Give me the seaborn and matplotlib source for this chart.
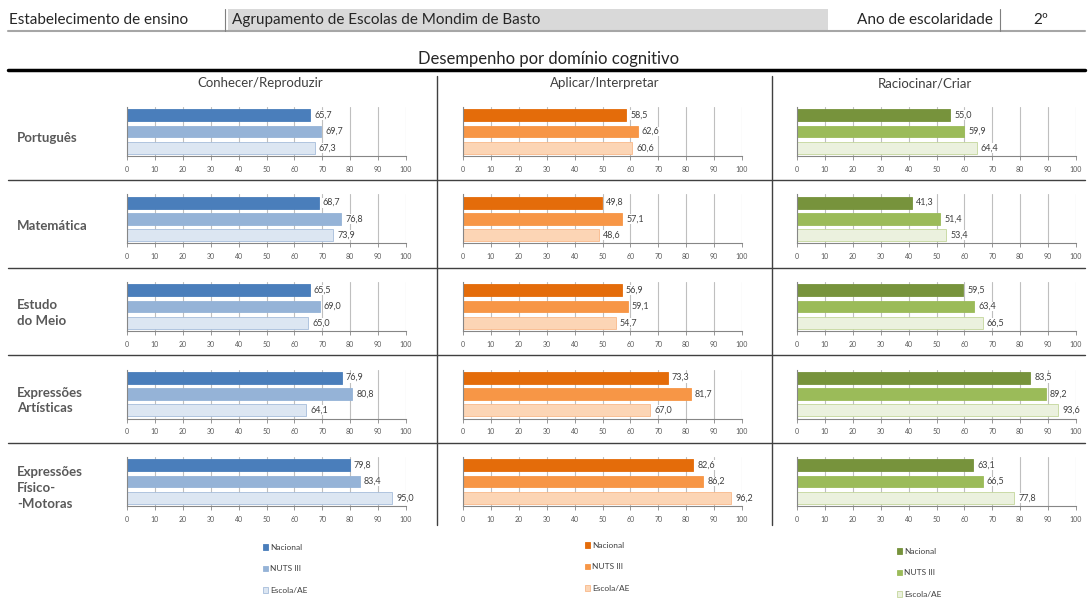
import numpy as np
import pandas as pd
import matplotlib.pyplot as plt
import seaborn as sns
from matplotlib.patches import Patch, Rectangle

W, H = 1091, 599

disciplinas = ["Português", "Matemática", "Estudo\ndo Meio",
               "Expressões\nArtísticas", "Expressões\nFísico-\n-Motoras"]
dominios = ["Conhecer/Reproduzir", "Aplicar/Interpretar", "Raciocinar/Criar"]
series = ["Nacional", "NUTS III", "Escola/AE"]

conhecer_nacional = [65.7, 68.7, 65.5, 76.9, 79.8]
conhecer_nuts = [69.7, 76.8, 69.0, 80.8, 83.4]
conhecer_escola = [67.3, 73.9, 65.0, 64.1, 95.0]

aplicar_nacional = [58.5, 49.8, 56.9, 73.3, 82.6]
aplicar_nuts = [62.6, 57.1, 59.1, 81.7, 86.2]
aplicar_escola = [60.6, 48.6, 54.7, 67.0, 96.2]

raciocinar_nacional = [55.0, 41.3, 59.5, 83.5, 63.1]
raciocinar_nuts = [59.9, 51.4, 63.4, 89.2, 66.5]
raciocinar_escola = [64.4, 53.4, 66.5, 93.6, 77.8]

valores = {
    "Conhecer/Reproduzir": [conhecer_nacional, conhecer_nuts, conhecer_escola],
    "Aplicar/Interpretar": [aplicar_nacional, aplicar_nuts, aplicar_escola],
    "Raciocinar/Criar": [raciocinar_nacional, raciocinar_nuts, raciocinar_escola],
}

paletas = {
    "Conhecer/Reproduzir": ["#4a7ebb", "#95b3d7", "#dce6f2"],
    "Aplicar/Interpretar": ["#e46c0a", "#f79646", "#fcd5b5"],
    "Raciocinar/Criar": ["#77933c", "#9bbb59", "#ebf1de"],
}
bordas = {
    "Conhecer/Reproduzir": ["#4a7ebb", "#95b3d7", "#a6bddb"],
    "Aplicar/Interpretar": ["#e46c0a", "#f79646", "#f9b98a"],
    "Raciocinar/Criar": ["#77933c", "#9bbb59", "#c3d69b"],
}

rows = []
for dom in dominios:
    for s, vals in zip(series, valores[dom]):
        for disc, v in zip(disciplinas, vals):
            rows.append({"dominio": dom, "disciplina": disc, "serie": s, "valor": v})
df = pd.DataFrame(rows)

sns.set_theme(style="white")
plt.rcParams["font.family"] = ["Lato", "DejaVu Sans"]

fig = plt.figure(figsize=(W / 100, H / 100), dpi=100)


def rect(x0, y0, x1, y1):
    return [x0 / W, 1 - y1 / H, (x1 - x0) / W, (y1 - y0) / H]


# background layer for header, separators and labels (pixel coords)
bg = fig.add_axes([0, 0, 1, 1])
bg.set_xlim(0, W)
bg.set_ylim(H, 0)
bg.axis("off")

# header
bg.add_patch(Rectangle((228, 9), 600, 22, facecolor="#d9d9d9", edgecolor="none"))
bg.plot([8, 1085], [31, 31], color="#a6a6a6", lw=1.5)
bg.plot([225, 225], [9, 31], color="#7f7f7f", lw=0.8)
bg.plot([1000, 1000], [9, 31], color="#7f7f7f", lw=0.8)
hdr = dict(fontsize=11, va="center", color="#262626")
bg.text(9, 20, "Estabelecimento de ensino", **hdr)
bg.text(232, 20, "Agrupamento de Escolas de Mondim de Basto", **hdr)
bg.text(857, 20, "Ano de escolaridade", **hdr)
bg.text(1041, 20, "2º", ha="center", **hdr)

bg.text(549, 59, "Desempenho por domínio cognitivo", fontsize=12, ha="center", va="center", color="#262626")
bg.plot([8, 1085], [70, 70], color="black", lw=2.5)

col_centro = [260, 605, 925]
for dom, cx in zip(dominios, col_centro):
    bg.text(cx, 83, dom, fontsize=9.5, ha="center", va="center", color="#404040")

for y in [180, 267.5, 355, 442.5]:
    bg.plot([8, 1085], [y, y], color="#404040", lw=1)
for x in [437, 772]:
    bg.plot([x, x], [76, 525], color="#404040", lw=1)

for i, disc in enumerate(disciplinas):
    bg.text(17, 138 + 87.5 * i, disc, fontsize=9.5, va="center", color="#595959",
            fontweight="bold", linespacing=1.35)

col_x0 = [127, 463, 797]
for j, dom in enumerate(dominios):
    for i, disc in enumerate(disciplinas):
        ax = fig.add_axes(rect(col_x0[j], 107 + 87.5 * i, col_x0[j] + 279, 156 + 87.5 * i))
        sub = df[(df["dominio"] == dom) & (df["disciplina"] == disc)]
        sns.barplot(data=sub, x="valor", y="serie", hue="serie", order=series,
                    hue_order=series, palette=paletas[dom], orient="h", width=0.72,
                    saturation=1, legend=False, ax=ax)
        for k, cont in enumerate(ax.containers):
            for p in cont.patches:
                p.set_edgecolor(bordas[dom][k])
                p.set_linewidth(0.6)
            ax.bar_label(cont, labels=[f"{v:.1f}".replace(".", ",") for v in cont.datavalues],
                         padding=3, fontsize=6.5, color="#404040",
                         bbox=dict(facecolor="white", edgecolor="none", pad=0.3))
        ax.set_xlim(0, 100)
        ax.set_xticks(range(0, 101, 10))
        ax.set_yticks([])
        ax.set_xlabel("")
        ax.set_ylabel("")
        ax.xaxis.grid(True, color="#bfbfbf", lw=0.8)
        ax.set_axisbelow(True)
        for side in ["top", "right"]:
            ax.spines[side].set_visible(False)
        for side in ["left", "bottom"]:
            ax.spines[side].set_color("#868686")
            ax.spines[side].set_linewidth(0.8)
        ax.tick_params(axis="x", labelsize=5, length=3, width=0.6, color="#868686",
                       labelcolor="#595959", bottom=True, pad=4)

# legends under each column
leg_pos = [(257, 538), (579, 536), (891, 542)]
for dom, (lx, ly) in zip(dominios, leg_pos):
    handles = [Patch(facecolor=c, edgecolor=e, lw=0.6) for c, e in zip(paletas[dom], bordas[dom])]
    fig.legend(handles, series, loc="upper left", bbox_to_anchor=(lx / W, 1 - ly / H),
               frameon=False, fontsize=6, labelspacing=1.75, handlelength=0.6,
               handleheight=0.6, handletextpad=0.3, labelcolor="#404040",
               borderpad=0.2)

fig.savefig("out.png", dpi=100)
